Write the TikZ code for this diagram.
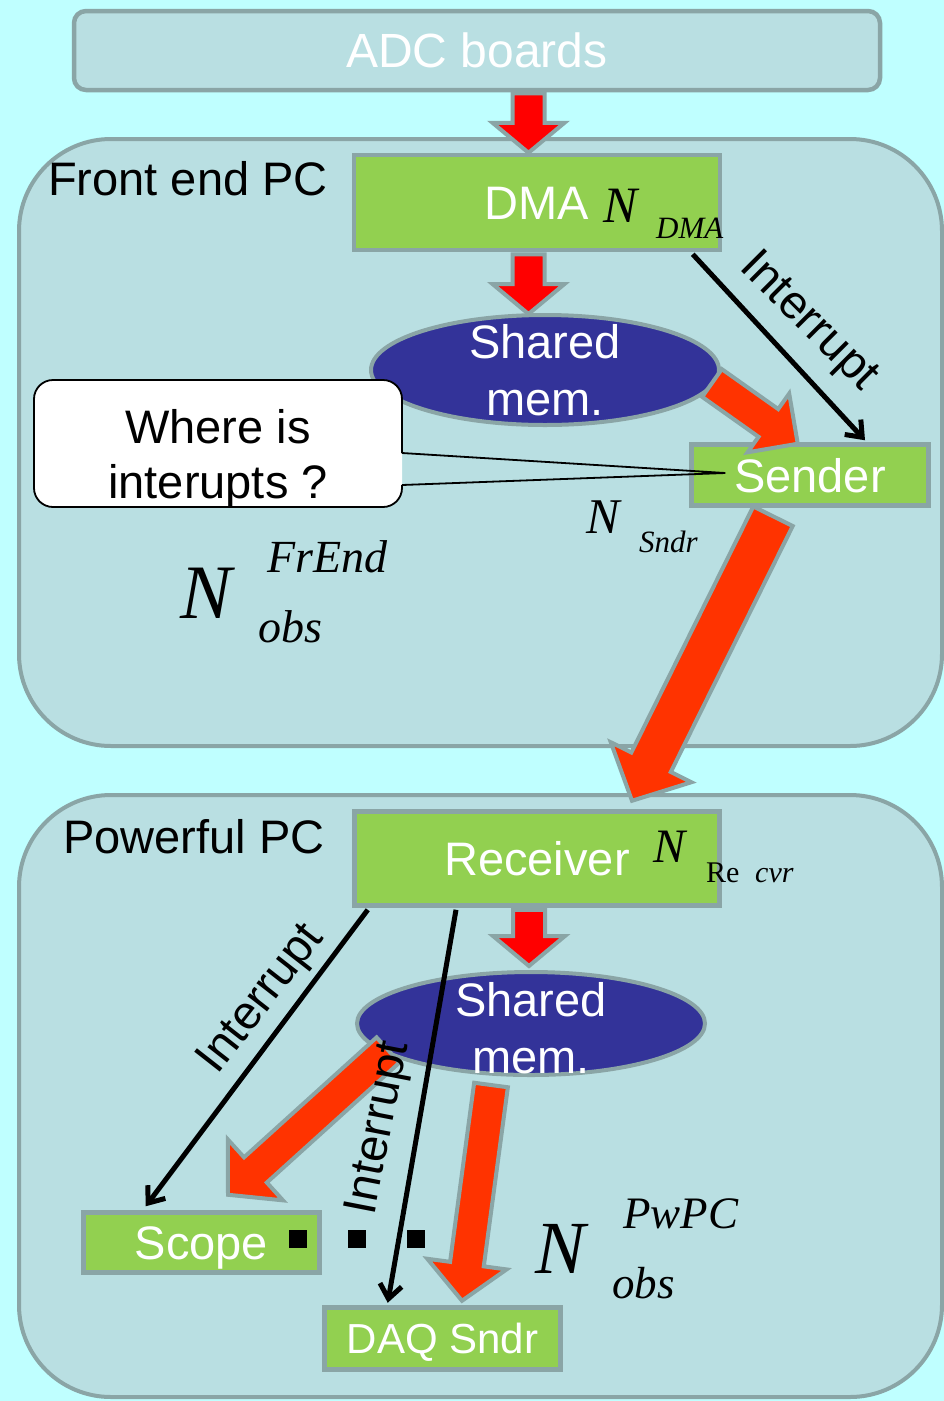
\documentclass[tikz,border=0pt]{standalone}
\usepackage{fontspec}
\setmainfont{Liberation Sans}
\newfontfamily\tmsfont{Liberation Serif}
\usetikzlibrary{calc,arrows.meta,shapes.geometric}
\definecolor{bgcyan}{HTML}{BFFFFF}
\definecolor{panel}{HTML}{B9DFE2}
\definecolor{edgegray}{HTML}{8AA5A6}
\definecolor{lgreen}{HTML}{92D050}
\definecolor{memblue}{HTML}{333399}
\definecolor{redA}{HTML}{FF0000}
\definecolor{redB}{HTML}{FF3300}
\newcommand\myfs[2]{\fontsize{#1}{#2}\selectfont}
% block arrow: start, end, shaft half width, head half width, head length, colour
\newcommand\barrow[6]{%
  \coordinate (ba-s) at (#1);
  \coordinate (ba-e) at (#2);
  \coordinate (ba-h) at ($(ba-e)!#5!(ba-s)$);
  \filldraw[barrowline, fill=#6]
    ($(ba-s)!#3!90:(ba-e)$) -- ($(ba-h)!#3!90:(ba-e)$) -- ($(ba-h)!#4!90:(ba-e)$)
    -- (ba-e) -- ($(ba-h)!#4!-90:(ba-e)$) -- ($(ba-h)!#3!-90:(ba-e)$)
    -- ($(ba-s)!#3!-90:(ba-e)$) -- cycle;
}
\tikzset{
  panelbox/.style={draw=edgegray, line width=4pt, fill=panel, rounded corners=92pt},
  greenbox/.style={rectangle, draw=edgegray, line width=4.5pt, fill=lgreen, inner sep=0pt,
    text=white, font=\myfs{47}{55}, text height=34pt, text depth=0pt},
  memell/.style={ellipse, draw=edgegray, line width=4pt, fill=memblue, inner sep=0pt},
  memtext/.style={inner sep=0pt, text=white, align=center, font=\myfs{47}{57}},
  barrowline/.style={draw=edgegray, line width=4pt, line join=miter},
  irq/.style={draw=black, line width=5pt, -{Straight Barb[length=14pt,width=22pt]}},
  lbl/.style={inner sep=0pt, font=\myfs{47}{55}},
  mth/.style={inner sep=0pt, anchor=base west, font=\tmsfont\itshape\myfs{#1}{#1}},
  mup/.style={inner sep=0pt, anchor=base west, font=\tmsfont\myfs{#1}{#1}},
  dotsq/.style={fill=black, inner sep=0pt, minimum size=18pt}
}
\begin{document}
\begin{tikzpicture}[x=1pt, y=-1pt]
\useasboundingbox (0,0) rectangle (944,1401);
\fill[bgcyan] (0,0) rectangle (944,1401);

% containers
\draw[panelbox] (19,139) rectangle (942,746);
\draw[panelbox] (19,795) rectangle (942,1397);

% boxes
\node[greenbox, rounded corners=12pt, fill=panel, minimum width=806pt, minimum height=79pt,
      font=\myfs{48}{55}, text height=34.5pt] (adc) at (477,50.5) {ADC boards};
\node[greenbox, minimum width=366pt, minimum height=95pt] (dma) at (537,202.5) {DMA};
\node[greenbox, minimum width=237pt, minimum height=61pt] (sender) at (810,475) {Sender};
\node[greenbox, minimum width=365pt, minimum height=94pt] (rcv) at (537,858.5) {Receiver};
\node[greenbox, minimum width=236pt, minimum height=60pt] (scope) at (201.5,1242.5) {Scope};
\node[greenbox, minimum width=236pt, minimum height=62pt, font=\myfs{42}{50}, text height=30pt]
      (daq) at (442.5,1338.5) {DAQ Sndr};

% shared memories
\node[memell, minimum width=348pt, minimum height=110pt] (sm1) at (545,370) {};
\node[memtext] (sm1t) at (sm1.center) {Shared\\mem.};
\node[memell, minimum width=348pt, minimum height=103pt] (sm2) at (531,1023.5) {};
\node[memtext] (sm2t) at ($(sm2.center)+(0,5)$) {Shared\\mem.};

% block arrows
\barrow{$(adc.south)+(51.5,1)$}{$(dma.north)+(-8.5,0)$}{16pt}{36pt}{30pt}{redA}
\barrow{$(dma.south)+(-8.5,2)$}{$(sm1.north)+(-16.5,1)$}{16pt}{36pt}{30pt}{redA}
\barrow{$(rcv.south)+(-8,2)$}{$(sm2.north)+(-2,-4)$}{16pt}{36pt}{30pt}{redA}
\barrow{$(sm1.center)+(167,13)$}{$(sender.north west)+(108.5,1.5)$}{17pt}{36pt}{36pt}{redB}
\barrow{$(sender.south)+(-37,8.5)$}{$(rcv.north)+(95,-8.5)$}{22pt}{45pt}{43pt}{redB}
\barrow{$(sm2.center)+(-143,26.5)$}{$(scope.north)+(26.5,-15.5)$}{17pt}{41pt}{37pt}{redB}
\barrow{$(sm2.south)+(-40,8)$}{$(daq.north)+(19.5,-4.5)$}{17pt}{40pt}{37pt}{redB}

% interrupt connectors
\draw[irq] ($(dma.south east)+(-29.5,2)$) -- ($(sender.north)+(55,-2)$);
\draw[irq] ($(rcv.south west)+(15.5,2)$) -- ($(scope.north west)+(64.5,-4)$);
\draw[irq] ($(rcv.south)+(-81,2)$) -- ($(daq.north west)+(65.5,-2.5)$);
\node[lbl, rotate=-45] (irq1) at (808,322) {Interrupt};
\node[lbl, rotate=52] (irq2) at (262,1000) {Interrupt};
\node[lbl, rotate=79] (irq3) at (380,1128) {Interrupt};

% dots
\node[dotsq] (d1) at (298,1239) {};
\node[dotsq] (d2) at (357,1239) {};
\node[dotsq] (d3) at (416,1239) {};

% container labels
\node[lbl, anchor=base west] (felbl) at (48,195) {Front end PC};
\node[lbl, anchor=base west] (pwlbl) at (63,853) {Powerful PC};

% math labels
\node[mth=51] (ndma) at (603,222) {N};
\node[mth=31] (ndmas) at (656,238) {DMA};
\node[mth=50] (nsnd) at (586,533) {N};
\node[mth=31] (nsnds) at (639,552) {Sndr};
\node[mth=48] (nrcv) at (653,862) {N};
\node[mup=30] (nrcvs1) at (706,882) {Re};
\node[mth=30] (nrcvs2) at (755,882) {cvr};
\node[mth=77] (nfe) at (180,618) {N};
\node[mth=46] (nfesup) at (267,572) {FrEnd};
\node[mth=46] (nfesub) at (258,642) {obs};
\node[mth=75] (npw) at (535,1273) {N};
\node[mth=45] (npwsup) at (623,1228) {PwPC};
\node[mth=45] (npwsub) at (612,1298) {obs};

% callout
\fill[white, rounded corners=19pt] (34,380) rectangle (402,507);
\draw[line width=1.8pt, rounded corners=19pt] (402,453) -- (402,380) -- (34,380) -- (34,507) -- (402,507) -- (402,485);
\node[lbl, align=center] (callout) at (218,458.5) {Where is\\interupts ?};
\draw[line width=1.8pt] (402,453) -- ($(sender.west)+(36,-2)$) -- (402,485);
\end{tikzpicture}
\end{document}
